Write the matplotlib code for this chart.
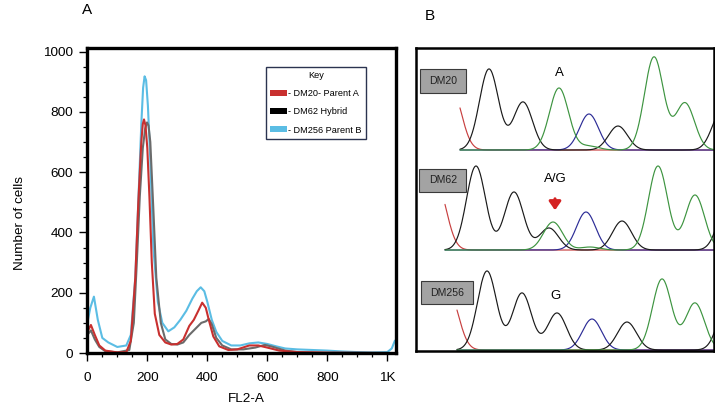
import numpy as np
import matplotlib
matplotlib.use("Agg")
import matplotlib.pyplot as plt
from matplotlib.patches import Patch, Rectangle
from matplotlib.ticker import MultipleLocator, FixedLocator, FixedFormatter

plt.rcParams["font.family"] = ["Liberation Sans", "DejaVu Sans"]

# ---- panel A: DNA content histograms (FL2-A vs number of cells) ----
dm256_x = [0, 10, 22, 35, 50, 70, 100, 130, 145, 160, 170, 180, 186, 191, 196, 202, 210, 220,
           235, 250, 270, 290, 310, 330, 350, 365, 378, 390, 400, 415, 430, 450, 480, 510, 540,
           570, 600, 630, 660, 700, 750, 800, 850, 900, 950, 1000, 1015, 1025]
dm256_y = [100, 150, 187, 110, 50, 35, 20, 25, 60, 250, 500, 760, 880, 918, 905, 820, 640, 350,
           170, 100, 72, 85, 110, 140, 180, 205, 218, 205, 170, 110, 70, 40, 25, 25, 32,
           35, 30, 22, 15, 12, 10, 8, 5, 3, 2, 3, 15, 40]

dm20_x = [0, 12, 25, 40, 60, 100, 130, 145, 160, 170, 180, 185, 189, 194, 200, 207, 215, 225,
          240, 260, 280, 300, 320, 340, 355, 370, 383, 395, 405, 420, 440, 470, 500, 540, 570,
          600, 640, 700, 800, 1000]
dm20_y = [70, 93, 60, 25, 8, 2, 3, 40, 250, 500, 700, 760, 775, 755, 680, 520, 300, 130,
          60, 35, 28, 30, 45, 90, 110, 140, 167, 150, 110, 55, 22, 10, 12, 25, 25,
          18, 8, 3, 1, 0]

dm62_x = [0, 12, 25, 40, 60, 100, 140, 155, 165, 175, 185, 193, 199, 204, 210, 220, 230, 245,
          260, 280, 300, 320, 340, 360, 380, 395, 405, 415, 430, 450, 480, 520, 560, 592, 620,
          660, 700, 800, 1000]
dm62_y = [60, 75, 45, 20, 6, 2, 10, 100, 300, 520, 680, 745, 765, 755, 700, 480, 250, 100,
          45, 30, 28, 35, 60, 80, 100, 105, 113, 95, 50, 25, 12, 12, 18, 27, 20,
          8, 3, 1, 0]

legend_labels = ["- DM20- Parent A", "- DM62 Hybrid", "- DM256 Parent B"]

# ---- panel B: sequencing chromatograms, peaks as (position, height, base) ----
trace_names = ["DM20", "DM62", "DM256"]
trace_baseline = [150, 250, 350]
trace_start = [460, 445, 457]
dm20_pos = [452, 489, 523, 559, 589, 589, 618, 654, 685, 722]
dm20_height = [60, 81, 48, 62, 36, 4, 24, 93, 47, 40]
dm20_base = ["T", "C", "C", "G", "A", "G", "C", "G", "G", "C"]
dm62_pos = [437, 476, 514, 549, 553, 586, 590, 622, 658, 695, 728]
dm62_height = [65, 84, 58, 22, 28, 38, 3, 29, 84, 55, 50]
dm62_base = ["T", "C", "C", "C", "G", "A", "G", "C", "G", "G", "C"]
dm256_pos = [449, 487, 522, 557, 592, 627, 662, 695, 728]
dm256_height = [57, 79, 57, 37, 31, 28, 71, 47, 50]
dm256_base = ["T", "C", "C", "C", "A", "C", "G", "G", "C"]
base_calls = ["A", "A/G", "G"]

series_colors = {"DM20": "#c8302f", "DM62": "#6b6b6b", "DM256": "#5bbde4"}
base_colors = {"A": "#2c2c96", "C": "#1a1a1a", "G": "#3d9440", "T": "#c84040"}


def chromatogram(ax, pos, height, base, start, baseline, sigma=9.5):
    x = np.linspace(start, 716, 400)
    for b in ["T", "A", "C", "G"]:
        y = np.zeros_like(x)
        for p, h, bb in zip(pos, height, base):
            if bb == b:
                y += h * np.exp(-((x - p) ** 2) / (2 * sigma ** 2))
        ax.plot(x, baseline - y, color=base_colors[b], lw=0.85, solid_capstyle="round")


def main() -> None:
    fig = plt.figure(figsize=(7.15, 4.12), dpi=100)

    # ------------------ panel A ------------------
    ax_a = fig.add_axes([0.1217, 0.1432, 0.4321, 0.7403])
    ax_a.plot(dm256_x, dm256_y, color=series_colors["DM256"], lw=1.5)
    ax_a.plot(dm62_x, dm62_y, color=series_colors["DM62"], lw=1.5)
    ax_a.plot(dm20_x, dm20_y, color=series_colors["DM20"], lw=1.5)
    ax_a.set_xlim(-1, 1029)
    ax_a.set_ylim(0, 1012)
    for sp in ax_a.spines.values():
        sp.set_linewidth(2.4)
    ax_a.xaxis.set_major_locator(FixedLocator([0, 200, 400, 600, 800, 1000]))
    ax_a.xaxis.set_major_formatter(FixedFormatter(["0", "200", "400", "600", "800", "1K"]))
    ax_a.xaxis.set_minor_locator(MultipleLocator(50))
    ax_a.yaxis.set_major_locator(MultipleLocator(200))
    ax_a.yaxis.set_minor_locator(MultipleLocator(50))
    ax_a.tick_params(which="major", length=6, width=1.0, labelsize=9.7, pad=4)
    ax_a.tick_params(which="minor", length=3, width=0.9)
    ax_a.tick_params(axis="x", which="major", pad=8)

    handles = [Patch(facecolor=series_colors["DM20"]),
               Patch(facecolor="#000000"),
               Patch(facecolor=series_colors["DM256"])]
    leg = ax_a.legend(handles, legend_labels, title="Key", loc="upper right",
                      bbox_to_anchor=(0.903, 0.938), fontsize=6.6, title_fontsize=6.6,
                      fancybox=False, framealpha=1, edgecolor="#2b3350",
                      handlelength=1.8, handleheight=0.6, handletextpad=0.15,
                      labelspacing=1.0, borderpad=0.45, borderaxespad=0)
    leg.get_frame().set_linewidth(1.0)

    fig.text(0.344, 0.032, "FL2-A", ha="center", va="center", fontsize=9.7)
    fig.text(0.028, 0.459, "Number of cells", ha="center", va="center",
             rotation=90, fontsize=9.7)
    fig.text(0.122, 0.975, "A", ha="center", va="center", fontsize=11)

    # ------------------ panel B ------------------
    ax_b = fig.add_axes([0.5818, 0.148, 0.4168, 0.7355])
    ax_b.set_xlim(416, 714)
    ax_b.set_ylim(351, 48)
    ax_b.set_xticks([])
    ax_b.set_yticks([])
    for sp in ax_b.spines.values():
        sp.set_linewidth(1.8)

    traces = [(dm20_pos, dm20_height, dm20_base),
              (dm62_pos, dm62_height, dm62_base),
              (dm256_pos, dm256_height, dm256_base)]
    for (pos, hgt, base), start, baseline in zip(traces, trace_start, trace_baseline):
        chromatogram(ax_b, pos, hgt, base, start, baseline)

    box_xy = [(420, 69.5), (419.5, 168.5), (421, 281)]
    box_w = [46.5, 46.5, 52]
    for name, (bx, by), bw in zip(trace_names, box_xy, box_w):
        ax_b.add_patch(Rectangle((bx, by), bw, 23, facecolor="#a3a3a3",
                                 edgecolor="#3a3a3a", lw=0.8, zorder=5))
        ax_b.text(bx + bw / 2, by + 11.5, name, ha="center", va="center",
                  fontsize=7.6, color="#222222", zorder=6)

    ax_b.text(559, 73, base_calls[0], ha="center", va="center", fontsize=9.5)
    ax_b.text(555, 179, base_calls[1], ha="center", va="center", fontsize=9.5)
    ax_b.text(555.5, 296, base_calls[2], ha="center", va="center", fontsize=9.5)
    ax_b.annotate("", xy=(555, 213), xytext=(555, 196),
                  arrowprops=dict(arrowstyle="-|>,head_width=0.35,head_length=0.5",
                                  color="#d42222", lw=2.2))

    fig.text(0.601, 0.962, "B", ha="center", va="center", fontsize=11)

    fig.savefig("out.png", dpi=100)


if __name__ == "__main__":
    main()
